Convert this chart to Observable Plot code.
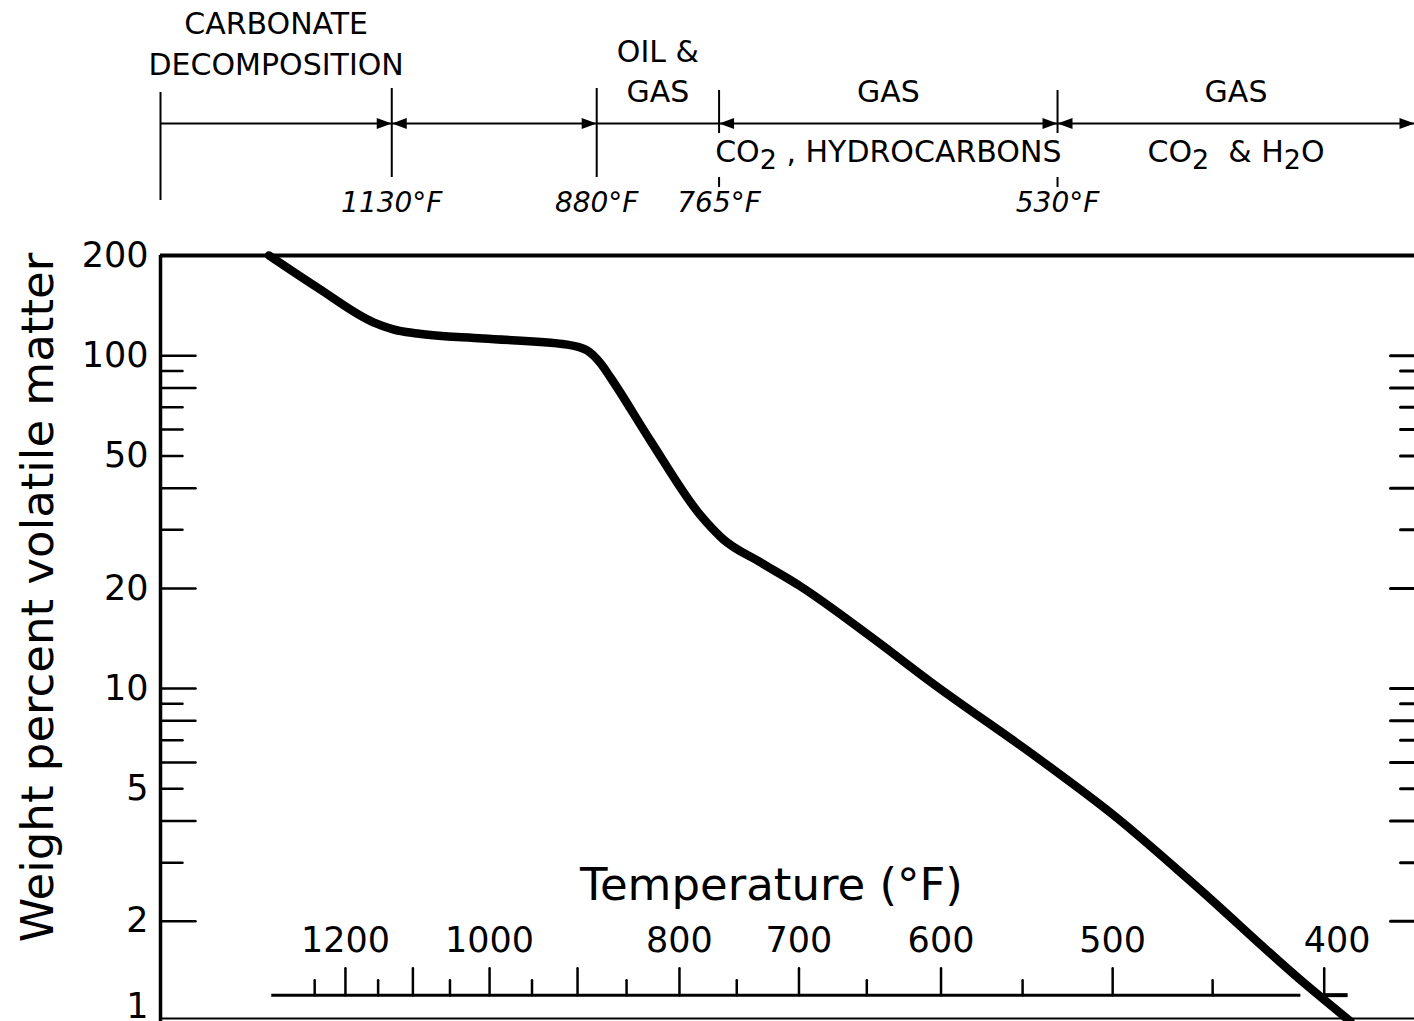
<!DOCTYPE html>
<html><head><meta charset="utf-8">
<script src="https://cdn.jsdelivr.net/npm/d3@7"></script>
<script src="https://cdn.jsdelivr.net/npm/@observablehq/plot@0.6"></script>
<style>
html,body{margin:0;padding:0;background:#fff;}
#chart{width:1414px;line-height:0;}
#chart svg{display:block;}
</style></head><body><div id="chart"></div>
<script>
// ---- data ----
const curveTempF = [1330, 1245, 1157, 1128, 1094, 1008, 911, 890, 876, 866, 827, 781, 762, 730, 699, 647, 607, 540, 498, 460, 410, 389];
const curveVolatile = [200, 160, 126, 120, 116.6, 112.6, 108, 103.7, 94.8, 86, 55.6, 33.1, 28.2, 23.9, 20.3, 14.3, 10.5, 6.12, 4.1, 2.62, 1.33, 1.0];

const tempTicksLong = [1200, 1100, 1000, 900, 800, 700, 600, 500];
const tempTicksShort = [1250, 1150, 1050, 950, 850, 750, 650, 550, 450];
const tempTickLabels = [1200, 1000, 800, 700, 600, 500];
const tempEndTick = 400;
const tempAxisSpanF = [1325, 410];
const tempEndStubF = [400, 390];
const tempAxisLevel = 1.2;

const yTicksLong = [100, 80, 40, 20, 10, 8, 6, 4, 2];
const yTicksShort = [90, 70, 60, 50, 30, 9, 7, 5, 3];
const yTickLabels = [200, 100, 50, 20, 10, 5, 2];
const yBottomLabel = 1;
const yDomain = [1, 200];

const frameTempF = [1554, 363.4];        // temperatures at the left / right frame edges
const zoneBoundsF = [1130, 880, 765, 530];
const zoneBoundLabels = ["1130°F", "880°F", "765°F", "530°F"];
const arrowHeads = ["end", "both", "none", "both", "both"];

const carbonateLines = ["CARBONATE", "DECOMPOSITION"];
const oilGasLines = ["OIL &", "GAS"];
const gasLabels = ["GAS", "GAS"];
const gasSubLabels = ["CO₂ , HYDROCARBONS", "CO₂  & H₂O"];

const xTitle = "Temperature (°F)";
const yTitle = "Weight percent volatile matter";

// ---- helpers ----
const inv = t => 1 / (t + 460);           // reciprocal absolute temperature (°R)
const xDomain = [inv(frameTempF[0]), inv(frameTempF[1])];
const curve = curveTempF.map((t, i) => ({t, v: curveVolatile[i]}));
const allBounds = [frameTempF[0], ...zoneBoundsF, frameTempF[1]];
const segs = allBounds.slice(0, -1).map((a, i) => ({a, b: allBounds[i + 1], head: arrowHeads[i]}));
const midU = (a, b) => (inv(a) + inv(b)) / 2;

const stick = {draw(context, l) { context.moveTo(0, 0); context.lineTo(0, -l); }};
const tri = (color) => {
  const m = d3.create("svg:marker")
    .attr("viewBox", "-16 -6 16 12")
    .attr("markerWidth", 16).attr("markerHeight", 12)
    .attr("markerUnits", "userSpaceOnUse")
    .attr("refX", 0).attr("refY", 0)
    .attr("orient", "auto-start-reverse")
    .attr("fill", color).attr("stroke", "none");
  m.append("path").attr("d", "M0,0L-15,-5.5L-15,5.5Z");
  return m.node();
};

const font = "DejaVu Sans";

// ---- header (zone annotations) ----
const header = Plot.plot({
  width: 1414, height: 230,
  marginTop: 0, marginBottom: 0, marginLeft: 160, marginRight: 0,
  x: {domain: xDomain, axis: null},
  y: {domain: [0, 230], range: [0, 230], axis: null},
  style: {fontFamily: font, background: "white", color: "black", overflow: "visible"},
  marks: [
    Plot.ruleX([frameTempF[0]], {x: inv, y1: 92, y2: 200, strokeWidth: 2}),
    Plot.ruleX(zoneBoundsF.slice(0, 2), {x: inv, y1: 88, y2: 177, strokeWidth: 2}),
    Plot.ruleX(zoneBoundsF.slice(2), {x: inv, y1: 90, y2: 133, strokeWidth: 2}),
    Plot.ruleX(zoneBoundsF.slice(2), {x: inv, y1: 177, y2: 187, strokeWidth: 2}),
    Plot.link(segs.filter(s => s.head === "end"), {x1: d => inv(d.a), x2: d => inv(d.b), y1: 123, y2: 123, strokeWidth: 2, markerEnd: tri}),
    Plot.link(segs.filter(s => s.head === "both"), {x1: d => inv(d.a), x2: d => inv(d.b), y1: 123, y2: 123, strokeWidth: 2, markerStart: tri, markerEnd: tri}),
    Plot.link(segs.filter(s => s.head === "none"), {x1: d => inv(d.a), x2: d => inv(d.b), y1: 123, y2: 123, strokeWidth: 2}),
    Plot.text(carbonateLines, {x: () => midU(frameTempF[0], zoneBoundsF[0]), y: (d, i) => [24, 65][i], text: d => d, fontSize: 30, fill: "black"}),
    Plot.text(oilGasLines, {x: () => midU(zoneBoundsF[1], zoneBoundsF[2]), y: (d, i) => [52, 92][i], text: d => d, fontSize: 30, fill: "black"}),
    Plot.text(gasLabels, {x: (d, i) => midU(allBounds[3 + i], allBounds[4 + i]), y: 92, text: d => d, fontSize: 30, fill: "black"}),
    Plot.text(gasSubLabels, {x: (d, i) => midU(allBounds[3 + i], allBounds[4 + i]), y: 152, text: d => d, fontSize: 30, fill: "black"}),
    Plot.text(zoneBoundLabels, {x: (d, i) => inv(zoneBoundsF[i]), y: 203, text: d => d, fontSize: 28, fontStyle: "italic", fill: "black"})
  ]
});

// ---- main chart ----
const main = Plot.plot({
  width: 1414, height: 791,
  marginTop: 25, marginBottom: 0, marginLeft: 160, marginRight: 0,
  x: {domain: xDomain, axis: null},
  y: {type: "log", domain: yDomain, axis: null},
  style: {fontFamily: font, background: "white", color: "black", overflow: "visible"},
  marks: [
    Plot.ruleY([yDomain[1]], {strokeWidth: 4}),
    Plot.ruleX([frameTempF[0]], {x: inv, strokeWidth: 3.5}),
    Plot.ruleY([yDomain[0]], {strokeWidth: 2, dy: -3}),
    Plot.vector(yTicksLong, {y: d => d, frameAnchor: "left", rotate: 90, length: 35, anchor: "start", shape: stick, strokeWidth: 2.5}),
    Plot.vector(yTicksShort, {y: d => d, frameAnchor: "left", rotate: 90, length: 22, anchor: "start", shape: stick, strokeWidth: 2.5}),
    Plot.vector(yTicksLong, {y: d => d, frameAnchor: "right", rotate: -90, length: 24, anchor: "start", shape: stick, strokeWidth: 3}),
    Plot.vector(yTicksShort, {y: d => d, frameAnchor: "right", rotate: -90, length: 14, anchor: "start", shape: stick, strokeWidth: 3}),
    Plot.text(yTickLabels, {y: d => d, text: d => String(d), frameAnchor: "left", textAnchor: "end", lineAnchor: "middle", dx: -12, fontSize: 35, fill: "black"}),
    Plot.text([yBottomLabel], {y: d => d, text: d => String(d), frameAnchor: "left", textAnchor: "end", lineAnchor: "middle", dx: -12, dy: -15, fontSize: 35, fill: "black"}),
    Plot.text([yTitle], {frameAnchor: "left", textAnchor: "middle", lineAnchor: "middle", rotate: -90, dx: -122, dy: -41, text: d => d, fontSize: 45, fill: "black"}),
    // temperature scale drawn inside the frame
    Plot.ruleY([tempAxisLevel], {y: d => d, x1: () => inv(tempAxisSpanF[0]), x2: () => inv(tempAxisSpanF[1]), strokeWidth: 3}),
    Plot.vector(tempTicksLong, {x: inv, y: () => tempAxisLevel, length: 27, anchor: "start", shape: stick, strokeWidth: 2.5}),
    Plot.vector(tempTicksShort, {x: inv, y: () => tempAxisLevel, length: 15, anchor: "start", shape: stick, strokeWidth: 2.5}),
    Plot.vector([tempEndTick], {x: inv, y: () => tempAxisLevel, length: 27, anchor: "start", shape: stick, strokeWidth: 2.5}),
    Plot.ruleY([tempAxisLevel], {y: d => d, x1: () => inv(tempEndStubF[0]), x2: () => inv(tempEndStubF[1]), strokeWidth: 4}),
    Plot.text(tempTickLabels, {x: inv, y: () => tempAxisLevel, dy: -54, text: d => String(d), fontSize: 35, fill: "black"}),
    Plot.text([tempEndTick], {x: inv, y: () => tempAxisLevel, dy: -54, dx: 13, text: d => String(d), fontSize: 35, fill: "black"}),
    Plot.text([xTitle], {frameAnchor: "bottom", lineAnchor: "middle", dx: -16, dy: -136, text: d => d, fontSize: 45, fill: "black"}),
    // the curve
    Plot.line(curve, {x: d => inv(d.t), y: "v", curve: "monotone-x", strokeWidth: 8.5, strokeLinejoin: "round"})
  ]
});

// render the chemical subscripts as lowered digits (still real text)
function subscriptify(svg) {
  svg.querySelectorAll("text").forEach(t => {
    const s = t.textContent;
    if (!s.includes("₂")) return;
    t.textContent = "";
    const parts = s.split("₂");
    parts.forEach((p, i) => {
      if (p) {
        const ts = document.createElementNS("http://www.w3.org/2000/svg", "tspan");
        ts.textContent = p;
        if (i > 0) ts.setAttribute("dy", "-7");
        t.appendChild(ts);
      }
      if (i < parts.length - 1) {
        const sub = document.createElementNS("http://www.w3.org/2000/svg", "tspan");
        sub.textContent = "2";
        sub.setAttribute("dy", "7");
        sub.setAttribute("font-size", "27");
        t.appendChild(sub);
      }
    });
  });
}
subscriptify(header);

const chart = document.getElementById("chart");
chart.appendChild(header);
chart.appendChild(main);
</script></body></html>
